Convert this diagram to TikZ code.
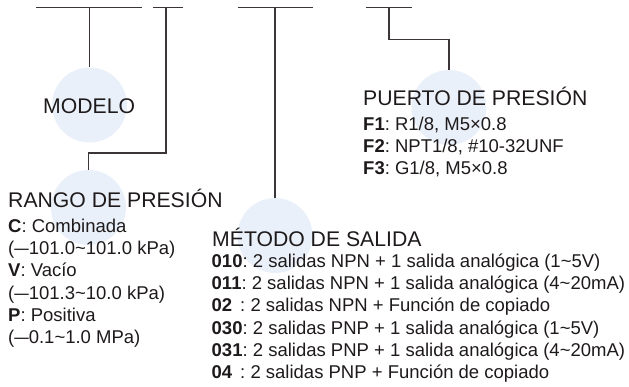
\documentclass[tikz,border=0pt]{standalone}
\usepackage{fontspec}
\setmainfont{Liberation Sans}
\frenchspacing
\definecolor{txt}{HTML}{1E1A1B}
\definecolor{ln}{HTML}{3B3536}
\definecolor{bub}{HTML}{EAF0F9}
\newcommand{\tl}{\textasciitilde}
\newcommand{\mydash}{\scalebox{0.78}[1]{—}}
\begin{document}
\begin{tikzpicture}[x=1pt,y=-1pt,
  bubble/.style={circle,fill=bub,draw=none,minimum size=75pt,inner sep=0pt},
  conn/.style={draw=ln,line width=1.4pt},
  head/.style={anchor=base west,inner sep=0pt,text=txt,font=\fontsize{21.2}{24}\selectfont},
  body/.style={anchor=base west,inner sep=0pt,text=txt,font=\fontsize{18.5}{22}\selectfont}]
\useasboundingbox (0,0) rectangle (629,387);
% bubbles
\node[bubble] (cModelo) at (89.5,105) {};
\node[bubble] (cRango) at (88.5,207.5) {};
\node[bubble] (cMetodo) at (275,235.5) {};
\node[bubble] (cPuerto) at (449,107.5) {};
% bars
\coordinate (b1l) at (36,7.5);   \coordinate (b1r) at (142,7.5); \coordinate (b1m) at (89.5,7.5);
\coordinate (b2l) at (153,7.5);  \coordinate (b2r) at (183,7.5); \coordinate (b2m) at (166,7.5);
\coordinate (b3l) at (238,7.5);  \coordinate (b3r) at (313,7.5); \coordinate (b3m) at (275,7.5);
\coordinate (b4l) at (366,7.5);  \coordinate (b4r) at (412,7.5); \coordinate (b4m) at (389,7.5);
\draw[conn] (b1l) -- (b1r);
\draw[conn] (b2l) -- (b2r);
\draw[conn] (b3l) -- (b3r);
\draw[conn] (b4l) -- (b4r);
% connectors
\draw[conn] (b1m) -- (cModelo.north);
\draw[conn] (b2m) |- (120,153) -| (cRango.north);
\draw[conn] (b3m) -- (cMetodo.north);
\draw[conn] (b4m) |- (420,39.5) -| (cPuerto.north);
% texts
\node[head] (tModelo) at (43,114) {MODELO};
\node[head] (tRango) at (8,208) {RANGO DE PRESIÓN};
\node[body] (r1) at (8,232.5) {\textbf{C}: Combinada};
\node[body] (r2) at (8,254.7) {(\mydash101.0\tl101.0 kPa)};
\node[body] (r3) at (8,277) {\textbf{V}: Vacío};
\node[body] (r4) at (8,299.2) {(\mydash101.3\tl10.0 kPa)};
\node[body] (r5) at (8,321.4) {\textbf{P}: Positiva};
\node[body] (r6) at (8,343.6) {(\mydash0.1\tl1.0 MPa)};
\node[head] (tMetodo) at (212,247) {MÉTODO DE SALIDA};
\node[body] (m1) at (211.5,267.5) {\textbf{010}: 2 salidas NPN + 1 salida analógica (1\tl5V)};
\node[body] (m2) at (211.5,289.7) {\textbf{011}: 2 salidas NPN + 1 salida analógica (4\tl20mA)};
\node[body] (m3) at (211.5,311.9) {\textbf{02}\hspace{0.43em}: 2 salidas NPN + Función de copiado};
\node[body] (m4) at (211.5,334.1) {\textbf{030}: 2 salidas PNP + 1 salida analógica (1\tl5V)};
\node[body] (m5) at (211.5,356.3) {\textbf{031}: 2 salidas PNP + 1 salida analógica (4\tl20mA)};
\node[body] (m6) at (211.5,378.5) {\textbf{04}\hspace{0.43em}: 2 salidas PNP + Función de copiado};
\node[head] (tPuerto) at (363,106) {PUERTO DE PRESIÓN};
\node[body] (p1) at (363,130.5) {\textbf{F1}: R1/8, M5×0.8};
\node[body] (p2) at (363,152.5) {\textbf{F2}: NPT1/8, \#10-32UNF};
\node[body] (p3) at (363,174.5) {\textbf{F3}: G1/8, M5×0.8};
\end{tikzpicture}
\end{document}
